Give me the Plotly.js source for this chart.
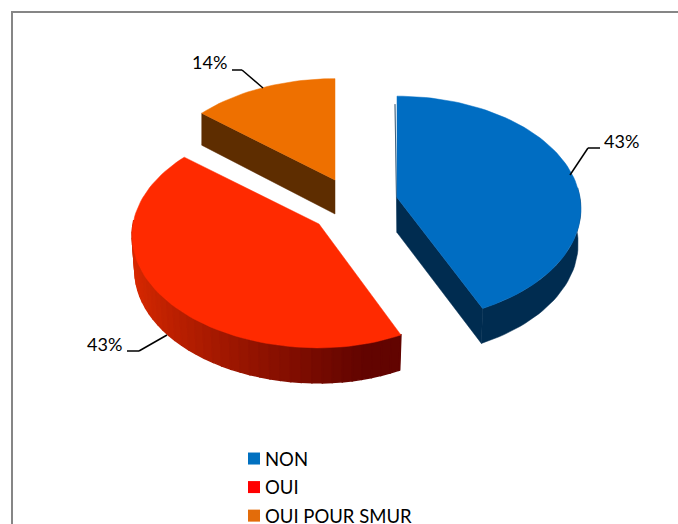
<!DOCTYPE html>
<html><head><meta charset="utf-8">
<script src="https://cdn.plot.ly/plotly-3.0.1.min.js"></script>
<style>html,body{margin:0;padding:0;background:#fff}</style></head>
<body><div id="chart" style="width:678px;height:524px"></div>
<script>
const categories = ['NON', 'OUI', 'OUI POUR SMUR'];
const values = [43, 43, 14];
const labels = ['43%', '43%', '14%'];
const legendColors = ['#0070C0', '#FF0000', '#E36C0A'];
const topColors = ['#006DC2', '#FF2A00', '#EE7000'];
const wallColors = ['#002C50', '#660400', '#5E2D00'];
const apexes = [[397, 197.5], [319, 224], [335, 180]];
const radiiRight = [183, 175, 180];
const radiiLeft = [183, 186, 184];
const leaders = [
  [[570, 175], [588, 148], [600, 148]],
  [[167, 335], [139, 351], [127, 351]],
  [[263, 88], [242, 70], [232, 70]]
];
const labelPos = [[621, 141], [104, 344], [209, 62]];

const RY = 111.5, K = 0.1, DEPTH = 35, SHRINK = 0.985;
const total = values.reduce((a, b) => a + b, 0);

function rim(i, deg, low) {
  const apex = apexes[i];
  const t = deg * Math.PI / 180, u = Math.sin(t), v = -Math.cos(t), w = 1 - K * v;
  const s = low ? SHRINK : 1, rx = u >= 0 ? radiiRight[i] : radiiLeft[i];
  return [apex[0] + s * rx * u / w, apex[1] + RY * v / w + (low ? DEPTH : 0)];
}
function arc(i, a, b, low) {
  const n = Math.max(2, Math.ceil(Math.abs(b - a) / 2)), pts = [];
  for (let j = 0; j <= n; j++) pts.push(rim(i, a + (b - a) * j / n, low));
  return pts;
}
function poly(pts, color, group, width) {
  return {
    type: 'scatter', mode: 'lines', fill: 'toself', fillcolor: color,
    x: pts.map(p => p[0]).concat(pts[0][0]), y: pts.map(p => p[1]).concat(pts[0][1]),
    line: {color: color, width: width || 0.5}, hoverinfo: 'skip', showlegend: false, legendgroup: group
  };
}
function mix(c1, c2, f) {
  return 'rgb(' + c1.map((c, i) => Math.round(c + (c2[i] - c) * f)).join(',') + ')';
}

const traces = [];
const bounds = [];
let acc = 0;
values.forEach(v => { bounds.push([acc / total * 360, (acc + v) / total * 360]); acc += v; });

categories.forEach((name, i) => {
  const apex = apexes[i], [a, b] = bounds[i];
  if (i === 0) {
    traces.push(poly(arc(i, 85, b, false).concat(arc(i, b, 85, true)), wallColors[i], name));
    traces.push(poly([apex, rim(i, b, false), rim(i, b, true), [apex[0], apex[1] + DEPTH]], wallColors[i], name));
    traces.push(poly([[apex[0] - 2, rim(i, 0, false)[1] + 8], apex, [apex[0], apex[1] + DEPTH]], wallColors[i], name));
  }
  if (i === 1) {
    const step = 3;
    for (let d = 272; d > a; d -= step) {
      const d2 = Math.max(a, d - step);
      const xm = rim(i, d, false)[0];
      const f = Math.min(1, Math.max(0, (xm - 135) / 225));
      const col = mix([214, 40, 0], [98, 4, 0], Math.pow(f, 0.8));
      traces.push(poly(arc(i, d, d2, false).concat(arc(i, d2, d, true)), col, name, 1.5));
    }
  }
  if (i === 2) {
    const e = rim(i, a, false);
    traces.push(poly([apex, e, [e[0], e[1] + DEPTH - 3], [apex[0], apex[1] + DEPTH - 1]], wallColors[i], name));
  }
  traces.push(poly([apex].concat(arc(i, a, b, false)), topColors[i], name));
});

categories.forEach((name, i) => {
  traces.push({
    type: 'scatter', mode: 'markers', name: name, x: [null], y: [null], legendgroup: name,
    marker: {symbol: 'square', size: 12, color: legendColors[i]}, hoverinfo: 'skip'
  });
});

const shapes = [{
  type: 'rect', xref: 'x', yref: 'y', x0: 12, y0: 12, x1: 700, y1: 560,
  line: {color: '#868686', width: 2}, fillcolor: 'rgba(0,0,0,0)', layer: 'below'
}];
leaders.forEach(l => {
  for (let j = 0; j < l.length - 1; j++) shapes.push({
    type: 'line', xref: 'x', yref: 'y', x0: l[j][0], y0: l[j][1], x1: l[j + 1][0], y1: l[j + 1][1],
    line: {color: '#000', width: 1.5}
  });
});

const layout = {
  width: 678, height: 524, margin: {l: 0, r: 0, t: 0, b: 0, autoexpand: false},
  paper_bgcolor: '#fff', plot_bgcolor: '#fff',
  font: {family: 'Lato, Carlito, sans-serif', size: 18, color: '#000'},
  xaxis: {range: [0, 678], visible: false, fixedrange: true},
  yaxis: {range: [524, 0], visible: false, fixedrange: true},
  showlegend: true,
  legend: {
    x: 225 / 678, xanchor: 'left', y: 1 - 440 / 524, yanchor: 'top',
    bgcolor: 'rgba(0,0,0,0)', borderwidth: 0, tracegroupgap: 1.5, itemwidth: 30,
    font: {family: 'Lato, Carlito, sans-serif', size: 18.5, color: '#000'}
  },
  shapes: shapes,
  annotations: labels.map((t, i) => ({
    text: t, x: labelPos[i][0], y: labelPos[i][1], xref: 'x', yref: 'y',
    showarrow: false, xanchor: 'center', yanchor: 'middle',
    font: {family: 'Lato, Carlito, sans-serif', size: 18, color: '#000'}
  }))
};
Plotly.newPlot('chart', traces, layout, {displayModeBar: false, staticPlot: true}).then(() => {
  document.querySelectorAll('.legend .legendsymbols').forEach(n => n.setAttribute('transform', 'translate(9,0)'));
});
</script></body></html>
